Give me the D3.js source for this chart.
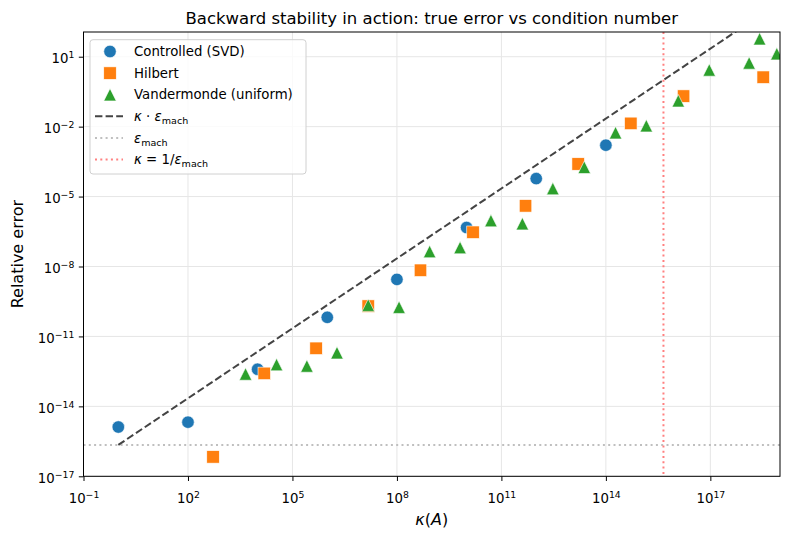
<!DOCTYPE html>
<html>
<head>
<meta charset="utf-8">
<script src="https://cdn.jsdelivr.net/npm/d3@7"></script>
<style>
    body { margin: 0; background: #fff; }
    svg  { font-family: 'DejaVu Sans', sans-serif; }
</style>
</head>
<body>
<svg id="chart"></svg>
<script>
'use strict';

/*
    Data
*/

const CONTROLLED_KAPPA = [1, 1e2, 1e4, 1e6, 1e8, 1e10, 1e12, 1e14];
const CONTROLLED_ERROR = [1.3e-15, 2.1e-15, 3.9e-13, 6.6e-11, 2.8e-9, 4.7e-7, 5.9e-5, 1.6e-3];

const HILBERT_KAPPA = [524, 1.55e4, 4.77e5, 1.5e7, 4.75e8, 1.53e10, 4.93e11, 1.6e13, 5.2e14, 1.7e16, 3.3e18];
const HILBERT_ERROR = [6.8e-17, 2.6e-13, 3.1e-12, 2.0e-10, 6.9e-9, 2.95e-7, 4.0e-6, 2.5e-4, 1.38e-2, 0.204, 1.32];

const VANDERMONDE_KAPPA = [4.5e3, 3.5e4, 2.6e5, 1.9e6, 1.5e7, 1.15e8, 8.7e8, 6.5e9, 5.0e10, 4.0e11,
                           3.0e12, 2.4e13, 1.9e14, 1.45e15, 1.2e16, 9.3e16, 1.3e18, 2.6e18, 8.1e18];
const VANDERMONDE_ERROR = [2.45e-13, 6.2e-13, 5.4e-13, 2.0e-12, 2.2e-10, 1.8e-10, 4.4e-8, 6.5e-8, 9.3e-7, 6.9e-7,
                           2.2e-5, 1.8e-4, 5.5e-3, 1.1e-2, 0.129, 2.7, 5.4, 59, 13.5];

const EPS_MACH  = 2.220446e-16;
const REF_KAPPA = [1, 1e19];

const X_TICKS = [1e-1, 1e2, 1e5, 1e8, 1e11, 1e14, 1e17];
const Y_TICKS = [1e-17, 1e-14, 1e-11, 1e-8, 1e-5, 1e-2, 1e1];

const SERIES_NAMES = ['Controlled (SVD)', 'Hilbert', 'Vandermonde (uniform)'];

/*
    Constants
*/

const WIDTH  = 790;
const HEIGHT = 540;

const MARGINS = Object.freeze({
    TOP    : 32,
    BOTTOM : 63.7,
    LEFT   : 83.5,
    RIGHT  : 10
});

const PLOT = Object.freeze({
    WIDTH  : WIDTH  - MARGINS.LEFT - MARGINS.RIGHT,
    HEIGHT : HEIGHT - MARGINS.TOP  - MARGINS.BOTTOM
});

const COLORS = ['#1f77b4', '#ff7f0e', '#2ca02c'];
const MARKER = 12.5;

const DOTTED = '2,3.3';

const SVG = d3.select('#chart')
    .attr('width', WIDTH)
    .attr('height', HEIGHT);

/*
    Scales
*/

const x = d3.scaleLog()
    .domain([1e-1, 1e19])
    .range([0, PLOT.WIDTH]);

const y = d3.scaleLog()
    .domain([1e-17, Math.pow(10, 2.06)])
    .range([PLOT.HEIGHT, 0]);

const plot = SVG.append('g')
    .attr('transform', `translate(${MARGINS.LEFT},${MARGINS.TOP})`);

plot.append('clipPath').attr('id', 'clip')
    .append('rect')
    .attr('width', PLOT.WIDTH)
    .attr('height', PLOT.HEIGHT);

// Grid
plot.append('g').selectAll('line').data(X_TICKS).join('line')
    .attr('x1', d => x(d)).attr('x2', d => x(d))
    .attr('y1', 0).attr('y2', PLOT.HEIGHT)
    .attr('stroke', '#e6e6e6').attr('stroke-width', 1);

plot.append('g').selectAll('line').data(Y_TICKS).join('line')
    .attr('y1', d => y(d)).attr('y2', d => y(d))
    .attr('x1', 0).attr('x2', PLOT.WIDTH)
    .attr('stroke', '#e6e6e6').attr('stroke-width', 1);

/*
    Reference lines
*/

const refs = plot.append('g').attr('clip-path', 'url(#clip)');

refs.append('line')
    .attr('x1', 0).attr('x2', PLOT.WIDTH)
    .attr('y1', y(EPS_MACH)).attr('y2', y(EPS_MACH))
    .attr('stroke', '#bfbfbf').attr('stroke-width', 2)
    .attr('stroke-dasharray', DOTTED);

refs.append('line')
    .attr('x1', x(1 / EPS_MACH)).attr('x2', x(1 / EPS_MACH))
    .attr('y1', 0).attr('y2', PLOT.HEIGHT)
    .attr('stroke', '#ff8080').attr('stroke-width', 2)
    .attr('stroke-dasharray', DOTTED);

refs.append('path')
    .datum(REF_KAPPA)
    .attr('d', d3.line().x(d => x(d)).y(d => y(d * EPS_MACH)))
    .attr('fill', 'none')
    .attr('stroke', '#444').attr('stroke-width', 2)
    .attr('stroke-dasharray', '7.4,3.2');

/*
    Markers
*/

const SYMBOLS = [
    (g, s) => g.append('circle').attr('r', s / 2),
    (g, s) => g.append('rect').attr('x', -s / 2).attr('y', -s / 2).attr('width', s).attr('height', s),
    (g, s) => g.append('path').attr('d', `M0,${-s / 2}L${s / 2},${s / 2}L${-s / 2},${s / 2}Z`)
];

function drawSeries(kappa, error, idx) {
    const pts = kappa.map((k, i) => ({ k : k, e : error[i] }));
    const g = plot.append('g').attr('clip-path', 'url(#clip)');
    pts.forEach(p => {
        const m = g.append('g').attr('transform', `translate(${x(p.k)},${y(p.e)})`);
        SYMBOLS[idx](m, MARKER)
            .attr('fill', COLORS[idx])
            .attr('stroke', '#fff')
            .attr('stroke-width', 0.6);
    });
}

drawSeries(CONTROLLED_KAPPA, CONTROLLED_ERROR, 0);
drawSeries(HILBERT_KAPPA, HILBERT_ERROR, 1);
drawSeries(VANDERMONDE_KAPPA, VANDERMONDE_ERROR, 2);

/*
    Axes
*/

function powerLabel(sel) {
    sel.each(function (d) {
        const t = d3.select(this).text('');
        const p = Math.round(Math.log10(d));
        t.append('tspan').text('10');
        t.append('tspan')
            .attr('dy', '-0.55em')
            .attr('font-size', '70%')
            .text(String(p).replace('-', '\u2212'));
    });
}

const xAxis = plot.append('g')
    .attr('transform', `translate(0,${PLOT.HEIGHT})`)
    .call(d3.axisBottom(x).tickValues(X_TICKS).tickSizeOuter(0).tickSize(4.7).tickPadding(9));

const yAxis = plot.append('g')
    .call(d3.axisLeft(y).tickValues(Y_TICKS).tickSizeOuter(0).tickSize(4.7).tickPadding(4.5));

[xAxis, yAxis].forEach(a => {
    a.select('.domain').remove();
    a.selectAll('line').attr('stroke', '#000').attr('stroke-width', 1);
    a.selectAll('text')
        .attr('fill', '#000')
        .attr('font-size', 13.3)
        .attr('font-family', 'DejaVu Sans, sans-serif')
        .call(powerLabel);
});

xAxis.selectAll('text').attr('dy', '0.95em');
yAxis.selectAll('text').attr('dy', '0.45em');

// Spines
plot.append('rect')
    .attr('width', PLOT.WIDTH)
    .attr('height', PLOT.HEIGHT)
    .attr('fill', 'none')
    .attr('stroke', '#000')
    .attr('stroke-width', 1);

/*
    Texts
*/

SVG.append('text')
    .attr('x', MARGINS.LEFT + PLOT.WIDTH / 2)
    .attr('y', 24)
    .attr('text-anchor', 'middle')
    .attr('font-size', 16.5)
    .text('Backward stability in action: true error vs condition number');

const xLabel = SVG.append('text')
    .attr('x', MARGINS.LEFT + PLOT.WIDTH / 2)
    .attr('y', 525)
    .attr('text-anchor', 'middle')
    .attr('font-size', 16);
xLabel.append('tspan').attr('font-style', 'italic').text('κ');
xLabel.append('tspan').text('(');
xLabel.append('tspan').attr('font-style', 'italic').text('A');
xLabel.append('tspan').text(')');

SVG.append('text')
    .attr('transform', `translate(23,${MARGINS.TOP + PLOT.HEIGHT / 2}) rotate(-90)`)
    .attr('text-anchor', 'middle')
    .attr('font-size', 16)
    .text('Relative error');

/*
    Legend
*/

const legend = SVG.append('g').attr('transform', 'translate(90,39.7)');

legend.append('rect')
    .attr('width', 216).attr('height', 134.3)
    .attr('rx', 3)
    .attr('fill', '#fff').attr('fill-opacity', 0.8)
    .attr('stroke', '#d0d0d0').attr('stroke-width', 1);

const ROW = (i) => 11.8 + i * 21.6;

SERIES_NAMES.forEach((name, i) => {
    const m = legend.append('g').attr('transform', `translate(20,${ROW(i)})`);
    SYMBOLS[i](m, MARKER).attr('fill', COLORS[i]).attr('stroke', '#fff').attr('stroke-width', 0.6);
    legend.append('text')
        .attr('x', 44).attr('y', ROW(i)).attr('dy', '0.36em')
        .attr('font-size', 13.3)
        .text(name);
});

const LINE_STYLES = [
    { stroke : '#444',    width : 2, dash : '7.4,3.2' },
    { stroke : '#bfbfbf', width : 2, dash : DOTTED },
    { stroke : '#ff8080', width : 2, dash : DOTTED }
];

function epsMach(t) {
    t.append('tspan').attr('font-style', 'italic').text('ε');
    t.append('tspan').attr('font-size', '72%').attr('dy', '0.3em').text('mach');
}

const LINE_LABELS = [
    t => { t.append('tspan').attr('font-style', 'italic').text('κ'); t.append('tspan').text(' · '); epsMach(t); },
    t => { epsMach(t); },
    t => { t.append('tspan').attr('font-style', 'italic').text('κ'); t.append('tspan').text(' = 1/'); epsMach(t); }
];

LINE_STYLES.forEach((s, j) => {
    const i = j + 3;
    legend.append('line')
        .attr('x1', 5).attr('x2', 33)
        .attr('y1', ROW(i)).attr('y2', ROW(i))
        .attr('stroke', s.stroke).attr('stroke-width', s.width)
        .attr('stroke-dasharray', s.dash);
    const t = legend.append('text')
        .attr('x', 44).attr('y', ROW(i) + 4.8)
        .attr('font-size', 13.3);
    LINE_LABELS[j](t);
});
</script>
</body>
</html>
